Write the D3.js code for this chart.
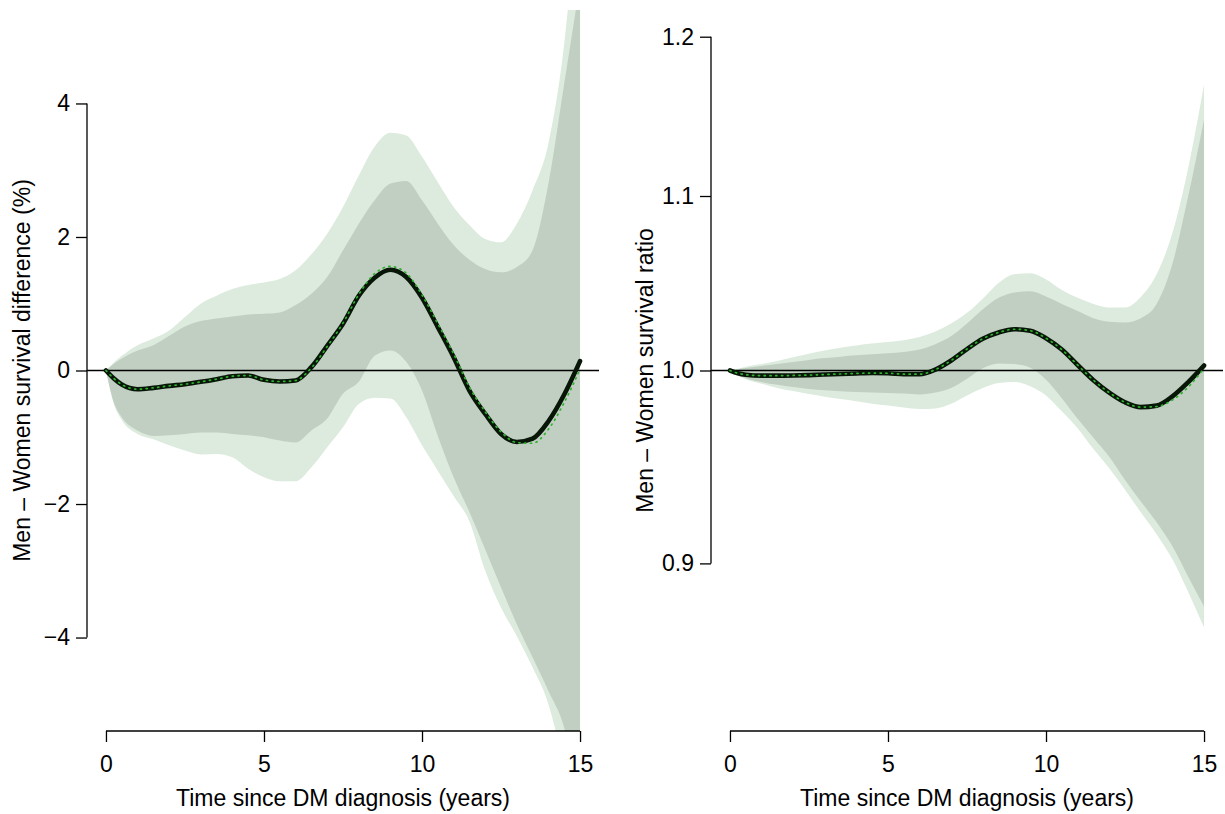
<!DOCTYPE html>
<html>
<head>
<meta charset="utf-8">
<script src="https://cdn.jsdelivr.net/npm/d3@7"></script>
<style>
  html, body { margin: 0; padding: 0; background: #ffffff; }
  svg { display: block; }
  text { font-family: "Liberation Sans", Arial, Helvetica, sans-serif; fill: #000; }
</style>
</head>
<body>
<svg id="chart" width="1225" height="814"></svg>
<script>
// Follow-up time grid (years since diabetes diagnosis)
const times = [0, 0.25, 0.5, 1, 1.5, 2, 2.5, 3, 3.5, 4, 4.5, 5, 5.5, 6, 6.5, 7, 7.5, 8,
               8.5, 9, 9.5, 10, 10.5, 11, 11.5, 12, 12.5, 13, 13.5, 14, 14.5, 15];

// Survival difference, men minus women (%)
const diffEst  = [0, -0.12, -0.21, -0.28, -0.26, -0.23, -0.205, -0.17, -0.13, -0.085, -0.075, -0.14,
                  -0.165, -0.15, 0.05, 0.37, 0.70, 1.12, 1.39, 1.51, 1.40, 1.09, 0.65, 0.20, -0.30,
                  -0.65, -0.95, -1.07, -1.02, -0.76, -0.36, 0.14];
const diffAlt  = [0, -0.12, -0.21, -0.28, -0.26, -0.23, -0.205, -0.17, -0.13, -0.085, -0.075, -0.14,
                  -0.165, -0.15, 0.04, 0.36, 0.71, 1.14, 1.45, 1.56, 1.46, 1.13, 0.70, 0.25, -0.25,
                  -0.62, -0.92, -1.08, -1.09, -0.88, -0.48, 0.02];
const diffHi95 = [0, 0.12, 0.22, 0.38, 0.48, 0.60, 0.80, 1.00, 1.12, 1.22, 1.28, 1.32, 1.37, 1.50,
                  1.74, 2.05, 2.45, 2.92, 3.35, 3.56, 3.52, 3.20, 2.82, 2.45, 2.18, 1.97, 1.92, 2.20,
                  2.70, 3.40, 4.90, 7.50];
const diffHi   = [0, 0.10, 0.18, 0.30, 0.38, 0.52, 0.66, 0.74, 0.78, 0.81, 0.84, 0.85, 0.87, 0.98,
                  1.15, 1.40, 1.80, 2.20, 2.55, 2.80, 2.84, 2.55, 2.20, 1.88, 1.66, 1.52, 1.47, 1.55,
                  1.80, 2.80, 4.30, 5.80];
const diffLo   = [0, -0.48, -0.70, -0.90, -0.98, -0.97, -0.95, -0.93, -0.93, -0.95, -0.97, -1.00,
                  -1.05, -1.08, -0.90, -0.72, -0.35, -0.17, 0.22, 0.30, 0.13, -0.30, -0.98, -1.60,
                  -2.12, -2.68, -3.25, -3.80, -4.30, -4.80, -5.35, -6.50];
const diffLo95 = [0, -0.50, -0.74, -0.95, -1.03, -1.12, -1.20, -1.26, -1.25, -1.30, -1.47, -1.60,
                  -1.66, -1.66, -1.45, -1.15, -0.85, -0.50, -0.41, -0.42, -0.70, -1.12, -1.50, -1.88,
                  -2.26, -3.00, -3.55, -3.98, -4.45, -5.00, -6.00, -7.50];

// Survival ratio, men / women
const ratioEst  = [1.0, 0.9985, 0.9977, 0.9972, 0.9972, 0.9973, 0.9975, 0.9978, 0.9981, 0.9984,
                   0.9986, 0.9985, 0.998, 0.998, 1.0005, 1.0055, 1.0118, 1.0175, 1.021, 1.0228,
                   1.022, 1.0178, 1.0115, 1.003, 0.9947, 0.988, 0.9828, 0.9802, 0.981, 0.986,
                   0.9937, 1.0027];
const ratioAlt  = [1.0, 0.9985, 0.9977, 0.9972, 0.9972, 0.9973, 0.9975, 0.9978, 0.9981, 0.9984,
                   0.9986, 0.9985, 0.998, 0.998, 1.0005, 1.0055, 1.0118, 1.0175, 1.021, 1.0228,
                   1.022, 1.0178, 1.0115, 1.003, 0.9947, 0.988, 0.9828, 0.9802, 0.9805, 0.984,
                   0.991, 1.0012];
const ratioHi95 = [1.0, 1.001, 1.002, 1.0035, 1.0052, 1.0072, 1.0092, 1.011, 1.0125, 1.0138, 1.0148,
                   1.0157, 1.0167, 1.0185, 1.0215, 1.026, 1.032, 1.040, 1.049, 1.054, 1.0545, 1.051,
                   1.045, 1.0405, 1.037, 1.035, 1.035, 1.041, 1.054, 1.078, 1.117, 1.169];
const ratioHi   = [1.0, 1.0007, 1.0013, 1.0025, 1.0035, 1.0046, 1.0058, 1.0068, 1.0076, 1.0083,
                   1.0089, 1.0095, 1.0102, 1.0115, 1.0145, 1.019, 1.026, 1.034, 1.0405, 1.0435,
                   1.0442, 1.0412, 1.037, 1.033, 1.029, 1.027, 1.0266, 1.029, 1.037, 1.06, 1.1, 1.147];
const ratioLo   = [1.0, 0.9975, 0.9958, 0.9937, 0.9922, 0.991, 0.99, 0.9893, 0.9887, 0.9883, 0.988,
                   0.9878, 0.9875, 0.987, 0.988, 0.9905, 0.9955, 1.0012, 1.0038, 1.0035, 1.0015,
                   0.995, 0.985, 0.974, 0.964, 0.954, 0.942, 0.931, 0.9205, 0.9085, 0.8935, 0.879];
const ratioLo95 = [1.0, 0.9973, 0.9953, 0.9928, 0.9905, 0.9888, 0.9872, 0.9858, 0.9845, 0.9833,
                   0.982, 0.981, 0.98, 0.9792, 0.9795, 0.982, 0.9865, 0.9905, 0.9932, 0.9938,
                   0.9915, 0.9865, 0.978, 0.969, 0.958, 0.948, 0.937, 0.9255, 0.9145, 0.902, 0.886,
                   0.869];

const xTicks = [0, 5, 10, 15];
const diffTicks = [-4, -2, 0, 2, 4];
const ratioTicks = [0.9, 1.0, 1.1, 1.2];

const xTitle = "Time since DM diagnosis (years)";
const diffTitle = "Men \u2013 Women survival difference (%)";
const ratioTitle = "Men \u2013 Women survival ratio";

const COL_OUTER = "#dcebdd";
const COL_INNER = "#c0cfc1";
const COL_LINE = "#071607";
const COL_DOTS = "#2fb32f";
const FONT = 23;

const svg = d3.select("#chart");
const plotTop = 10, plotBottom = 731;

// pad a range by 4% on each side, as base graphics does
function padded(lo, hi) { const p = (hi - lo) * 0.04; return [lo - p, hi + p]; }

function panel(opts) {
  const { left, right, y, yTicks, yFmt, est, alt, hi95, hi, lo, lo95, title, titleX, ref } = opts;
  const x = d3.scaleLinear().domain(padded(0, 15)).range([left, right]);
  const g = svg.append("g");

  const clipId = "clip" + left;
  g.append("clipPath").attr("id", clipId)
    .append("rect").attr("x", left).attr("y", plotTop).attr("width", right - left).attr("height", plotBottom - plotTop);

  const rows = times.map((t, i) => ({ t, est: est[i], alt: alt[i], hi95: hi95[i], hi: hi[i], lo: lo[i], lo95: lo95[i] }));
  const plot = g.append("g").attr("clip-path", `url(#${clipId})`);

  const band = (a, b) => d3.area().curve(d3.curveMonotoneX)
    .x(d => x(d.t)).y0(d => y(d[a])).y1(d => y(d[b]));
  plot.append("path").datum(rows).attr("d", band("lo95", "hi95")).attr("fill", COL_OUTER);
  plot.append("path").datum(rows).attr("d", band("lo", "hi")).attr("fill", COL_INNER);

  // reference line across the whole plot region
  plot.append("line").attr("x1", left).attr("x2", right).attr("y1", y(ref)).attr("y2", y(ref))
    .attr("stroke", "#000").attr("stroke-width", 1.4);

  const line = key => d3.line().curve(d3.curveMonotoneX).x(d => x(d.t)).y(d => y(d[key]));
  plot.append("path").datum(rows).attr("d", line("est")).attr("fill", "none")
    .attr("stroke", COL_LINE).attr("stroke-width", 4.6).attr("stroke-linejoin", "round").attr("stroke-linecap", "round");
  plot.append("path").datum(rows).attr("d", line("alt")).attr("fill", "none")
    .attr("stroke", COL_DOTS).attr("stroke-width", 1.7).attr("stroke-dasharray", "1.2 4.6").attr("stroke-linecap", "round");

  // x axis
  const xa = g.append("g").attr("transform", `translate(0,${plotBottom})`)
    .call(d3.axisBottom(x).tickValues(xTicks).tickSize(11).tickPadding(14).tickSizeOuter(0).tickFormat(d3.format("d")));
  xa.select(".domain").remove();
  xa.append("line").attr("x1", x(xTicks[0])).attr("x2", x(xTicks[xTicks.length - 1]))
    .attr("stroke", "#000").attr("stroke-width", 1.3);
  xa.selectAll(".tick line").attr("stroke", "#000").attr("stroke-width", 1.3);
  xa.selectAll("text").attr("font-size", FONT).attr("font-family", null);

  // y axis
  const ya = g.append("g").attr("transform", `translate(${left},0)`)
    .call(d3.axisLeft(y).tickValues(yTicks).tickSize(11).tickPadding(6).tickSizeOuter(0).tickFormat(yFmt));
  ya.select(".domain").remove();
  ya.append("line").attr("y1", y(yTicks[0])).attr("y2", y(yTicks[yTicks.length - 1]))
    .attr("stroke", "#000").attr("stroke-width", 1.3);
  ya.selectAll(".tick line").attr("stroke", "#000").attr("stroke-width", 1.3);
  ya.selectAll("text").attr("font-size", FONT).attr("font-family", null);

  g.append("text").attr("x", (left + right) / 2).attr("y", 806)
    .attr("text-anchor", "middle").attr("font-size", FONT).text(xTitle);
  g.append("text").attr("transform", `translate(${titleX},${(plotTop + plotBottom) / 2}) rotate(-90)`)
    .attr("text-anchor", "middle").attr("font-size", FONT).text(title);
}

const minus = s => s.replace("-", "\u2212");

panel({
  left: 87, right: 599,
  y: d3.scaleLinear().domain(padded(-5, 5)).range([plotBottom, plotTop]),
  yTicks: diffTicks, yFmt: d => minus(d3.format("d")(d)),
  est: diffEst, alt: diffAlt, hi95: diffHi95, hi: diffHi, lo: diffLo, lo95: diffLo95,
  title: diffTitle, titleX: 30, ref: 0
});

const lr = Math.log(1.2) - Math.log(1 / 1.2);
panel({
  left: 711, right: 1223,
  y: d3.scaleLog().domain([(1 / 1.2) / Math.exp(0.04 * lr), 1.2 * Math.exp(0.04 * lr)]).range([plotBottom, plotTop]),
  yTicks: ratioTicks, yFmt: d3.format(".1f"),
  est: ratioEst, alt: ratioAlt, hi95: ratioHi95, hi: ratioHi, lo: ratioLo, lo95: ratioLo95,
  title: ratioTitle, titleX: 653, ref: 1.0
});
</script>
</body>
</html>
